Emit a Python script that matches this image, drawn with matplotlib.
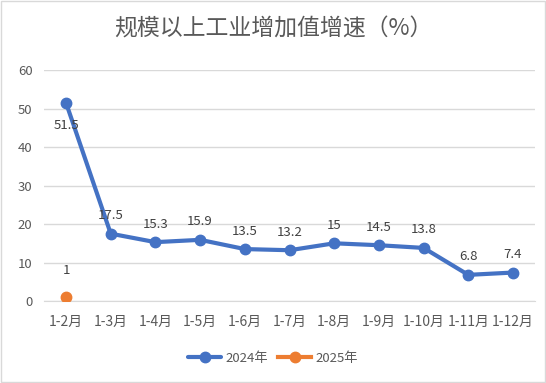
import matplotlib
matplotlib.use('Agg')
import matplotlib.pyplot as plt
from matplotlib.patches import Rectangle

plt.rcParams['font.family'] = ['Noto Sans CJK SC', 'DejaVu Sans']

months = ['1-2月', '1-3月', '1-4月', '1-5月', '1-6月', '1-7月', '1-8月', '1-9月', '1-10月', '1-11月', '1-12月']
v2024 = [51.5, 17.5, 15.3, 15.9, 13.5, 13.2, 15, 14.5, 13.8, 6.8, 7.4]
v2025 = [1]
yticks = [0, 10, 20, 30, 40, 50, 60]

gray = '#595959'
blue = '#4472C4'
orange = '#ED7D31'

fig = plt.figure(figsize=(5.46, 3.83), dpi=100)
fig.patches.append(Rectangle((0.002, 0.003), 0.996, 0.994, transform=fig.transFigure,
                             fill=False, edgecolor='#D9D9D9', linewidth=1))
ax = fig.add_axes([0.080, 0.214, 0.9005, 0.603])

x = list(range(len(months)))
ax.plot(x, v2024, color=blue, linewidth=3, marker='o', markersize=7.5, label='2024年',
        solid_capstyle='round', zorder=3)
ax.plot(x[:len(v2025)], v2025, color=orange, linewidth=3, marker='o', markersize=7.5,
        label='2025年', zorder=3)

for i, v in enumerate(v2024):
    lbl = f'{v:g}'
    if i == 0:
        ax.annotate(lbl, (i, v), xytext=(0, -16), textcoords='offset points',
                    ha='center', va='center', fontsize=9.5, color='#404040')
    else:
        ax.annotate(lbl, (i, v), xytext=(0, 13), textcoords='offset points',
                    ha='center', va='center', fontsize=9.5, color='#404040')
for i, v in enumerate(v2025):
    ax.annotate(f'{v:g}', (i, v), xytext=(0, 19), textcoords='offset points',
                ha='center', va='center', fontsize=9.5, color='#404040')

ax.set_xlim(-0.5, len(months) - 0.5)
ax.set_ylim(0, 60)
ax.set_yticks(yticks)
ax.set_xticks(x)
ax.set_xticklabels(months)
ax.grid(axis='y', color='#D9D9D9', linewidth=1)
ax.set_axisbelow(True)
for s in ['top', 'right', 'left']:
    ax.spines[s].set_visible(False)
ax.spines['bottom'].set_color('#D9D9D9')
ax.tick_params(length=0, labelsize=9.5, colors=gray)
ax.tick_params(axis='x', labelsize=10, pad=10)
ax.tick_params(axis='y', pad=8)

fig.text(0.5, 0.925, '规模以上工业增加值增速（%）', ha='center', va='center',
         fontsize=16.5, color=gray)
fig.legend(loc='center', bbox_to_anchor=(0.5, 0.065), ncol=2, frameon=False,
           fontsize=9.5, labelcolor=gray, handlelength=2.5, columnspacing=0.8,
           handletextpad=0.3)

fig.savefig('out.png', dpi=100)
